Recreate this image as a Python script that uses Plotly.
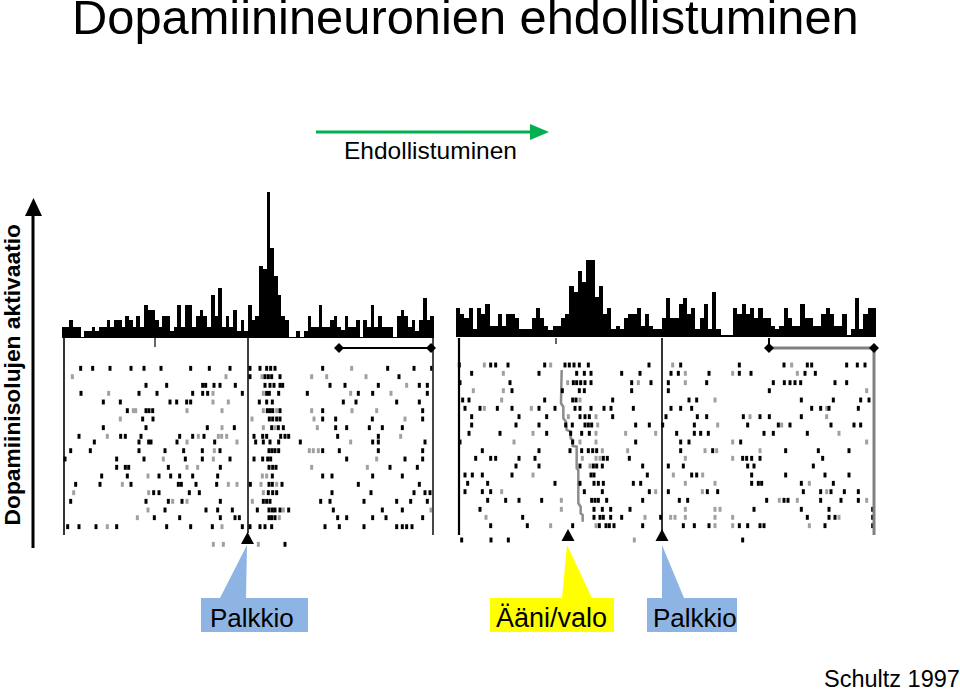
import plotly.graph_objects as go

W, H = 960, 693

title_text = "Dopamiinineuronien ehdollistuminen"
arrow_label = "Ehdollistuminen"
y_label = "Dopamiinisolujen aktivaatio"
reward_label = "Palkkio"
cue_label = "Ääni/valo"
source_label = "Schultz 1997"

# peri-event histograms (100 bins each, arbitrary activity units)
left_hist = [32,32,54,32,32,3,22,22,32,22,32,32,54,32,54,54,32,67,54,32,67,32,98,85,85,54,32,67,67,22,
             32,98,32,98,98,32,67,85,67,32,130,67,150,32,67,32,85,22,54,22,98,54,67,217,207,438,270,185,130,67,
             54,2,2,22,2,22,67,32,32,98,32,32,54,67,32,24,67,32,32,54,2,54,32,98,32,67,32,32,32,2,
             67,85,67,32,54,22,54,120,54,67]
right_hist = [87,70,57,87,24,87,70,100,34,34,70,34,70,70,57,24,24,24,57,87,57,34,22,34,34,57,70,154,134,197,
              166,230,230,120,154,70,87,24,34,24,57,70,70,87,34,70,34,24,24,57,117,57,57,100,117,70,87,24,57,100,
              24,134,24,4,4,4,87,70,100,70,87,57,87,57,57,34,24,34,87,57,34,34,100,57,57,34,34,70,87,70,
              34,34,70,4,24,117,24,70,87,87]

# raster trials (vertical trial position, spike times in raster time units)
left_trial_y = [25,50,76,100,126,152,177,203,229,246,272,297,322,348,373,398,424,450,473,500,553]
left_black = [
 [92,128,180,243,282,333,422,478,540,600,630,650,662,675,818,1013,1092,1145],
 [600,645,655,665,690,1047],
 [288,350,458,467,492,510,556,645,660,672,690,698,840,885,985,1108,1132],
 [93,267,321,428,458,473,577,650,658,686,772,925,968,1132],
 [160,211,360,380,410,422,628,650,667,880,918,1040,1108],
 [232,288,297,308,652,660,668,690,818,1118],
 [278,309,658,668,680,690,818,857,967,1118],
 [160,288,472,553,665,685,700,857,890,958,997,1057],
 [87,212,226,273,389,428,462,612,638,650,692,705,716,863,985],
 [133,267,296,303,381,494,617,640,660,686,751,968,985,1125],
 [62,121,267,345,401,457,510,657,666,675,686,818,868,985,1118],
 [45,200,282,406,457,540,612,638,653,662,890,1065,1118],
 [200,226,236,355,511,657,668,678,1020,1102],
 [155,232,327,362,389,428,503,667,818,846,968,1057],
 [77,150,243,385,394,438,500,601,657,667,696,925,1108],
 [311,327,418,448,655,668,680,846,963,1092,1125,1140],
 [62,288,355,396,511,640,650,660,812,840,942,1040,1082,1132],
 [345,468,503,547,622,657,667,675,690,716,850,997,1057],
 [313,389,511,555,568,657,665,675,863,890,968,1008,1118],
 [53,87,138,200,350,422,487,577,600,630,645,665,825,868,942,1040,1057,1070,1086],
 [705],
]
left_grey = [
 [905],
 [67,528,636,785,830,948],
 [1070],
 [176,489,640,902,1023],
 [489,535],
 [250,257,411,516,640,680,785,906,980],
 [211,606,792,1065],
 [516,640,675,802],
 [172,445,505,515,530,1052],
 [411,561,902],
 [493,778,790,805],
 [340,490,980],
 [411,443,785,952],
 [294,637,650],
 [217,535,561,633,680],
 [71,296,640],
 [368,411,607],
 [294,700,1143],
 [262,688],
 [172,516],
 [490,520,625],
]

right_trial_y = [15,40,68,92,120,145,170,195,220,246,272,295,318,345,370,395,421,448,472,497,540]
right_black = [
 [28,122,137,174,284,345,358,372,388,415,597,692,868,1002,1072,1085,1190,1222,1245],
 [65,267,380,403,423,515,570,663,685,777,868,903,1065,1096],
 [30,180,370,380,392,405,423,545,603,655,770,970,1003,1020,1035,1052,1155,1190],
 [186,337,388,403,545,655,958],
 [38,57,284,368,378,488,717,740,1054,1150,1232,1257],
 [45,90,142,186,267,315,375,390,423,462,483,550,663,692,725,1085,1112,1137,1225],
 [65,207,290,390,405,418,488,648,742,770,880,930,958,1054],
 [65,198,267,347,367,405,415,425,557,598,638,733,893,985,1020,1143,1212,1232],
 [57,150,290,362,395,418,680,733,752,775,942,970,1072],
 [30,368,557,692,717,872],
 [97,267,360,395,415,428,440,692,788,1007,1105,1197],
 [77,122,137,207,255,460,472,538,878,890,905,930,1118],
 [198,267,390,430,440,457,578,655,700,893,912,1090],
 [45,67,97,186,423,432,592,725,740,905,1007,1125,1197],
 [53,113,315,390,432,445,460,550,572,905,925,935,1054,1150],
 [45,97,122,403,457,598,655,772,803,1060,1112,1143,1183,1225],
 [113,167,207,275,425,435,445,470,578,688,713,950,1002,1014,1112,1173,1225],
 [90,432,457,482,540,912,1054,1137,1268],
 [218,432,450,460,482,515,632,1072,1137,1155,1268],
 [122,232,368,448,468,478,492,578,700,733,777,868,893,930,942,1125,1268],
 [35,123,175,878],
]
right_grey = [
 [103,302,668,1025],
 [160,706,848,1042],
 [353,565,706],
 [70,160,1250],
 [155,390,795],
 [103,244,1130],
 [355,438,900,1130],
 [443,803,995],
 [249,438,527,617,1167],
 [192,390,438,848,1250],
 [457,533,765,800,930],
 [397,438,450,706,848],
 [420],
 [249,670,758],
 [706,795,1078],
 [155,617,757,1130],
 [334,988,1042,1250],
 [334,706,795,810],
 [108,585,662,675,706,795,848,1167],
 [302,438,795,848,1078],
 [553],
]

# cue onset marked on each trial of the right raster
cue_onset_x = [335,333,333,340,340,348,350,362,362,368,368,380,380,385,385,392,392,398,398]
cue_onset_y = [30,80,130,140,175,185,210,215,235,240,258,260,325,330,430,440,460,465,485]


def xd(a, b):
    return [a / W, b / W]


def yd(top, bottom):
    return [1 - bottom / H, 1 - top / H]


def px(x):
    return x / W


def py(y):
    return 1 - y / H


def raster(rows, ys):
    xs, yy = [], []
    for r, yv in zip(rows, ys):
        for t in r:
            xs.append(t)
            yy.append(yv)
    return xs, yy


def spikes(rows, ys, color, xa, ya):
    xs, yy = raster(rows, ys)
    return go.Scatter(x=xs, y=yy, mode="markers", xaxis=xa, yaxis=ya, hoverinfo="skip",
                      marker=dict(symbol="line-ns", size=3.5, color=color,
                                  line=dict(width=3, color=color)))


fig = go.Figure()
fig.add_bar(x=list(range(len(left_hist))), y=left_hist, marker=dict(color="black", line_width=0),
            xaxis="x", yaxis="y")
fig.add_bar(x=list(range(len(right_hist))), y=right_hist, marker=dict(color="black", line_width=0),
            xaxis="x2", yaxis="y2")
fig.add_trace(spikes(left_grey, left_trial_y, "#a0a0a0", "x3", "y3"))
fig.add_trace(spikes(left_black, left_trial_y, "#000000", "x3", "y3"))
fig.add_trace(go.Scatter(x=cue_onset_x, y=cue_onset_y, mode="lines", xaxis="x4", yaxis="y4",
                         line=dict(color="#8c8c8c", width=2.5), hoverinfo="skip"))
fig.add_trace(spikes(right_grey, right_trial_y, "#a0a0a0", "x4", "y4"))
fig.add_trace(spikes(right_black, right_trial_y, "#000000", "x4", "y4"))


def line(x0, y0, x1, y1, color="black", width=1.5):
    return dict(type="line", xref="paper", yref="paper", x0=px(x0), y0=py(y0), x1=px(x1), y1=py(y1),
                line=dict(color=color, width=width), layer="above")


def poly(points, color, layer="below"):
    path = "M " + " L ".join(f"{px(a):.5f} {py(b):.5f}" for a, b in points) + " Z"
    return dict(type="path", xref="paper", yref="paper", path=path, fillcolor=color,
                line=dict(width=0), layer=layer)


BLUE = "#8EB4E3"
YEL = "#FFFF00"
shapes = [
    # callouts
    poly([(201, 598), (220, 598), (247, 545), (246, 598), (308, 598), (308, 632), (201, 632)], BLUE),
    poly([(490, 598), (562, 598), (567, 545), (592, 598), (614, 598), (614, 632), (490, 632)], YEL),
    poly([(647, 598), (662, 598), (662, 545), (684, 598), (737, 598), (737, 632), (647, 632)], BLUE),
    # event triangles
    poly([(241, 544), (254, 544), (247.5, 532)], "black", "above"),
    poly([(561.5, 541), (574.5, 541), (568, 529)], "black", "above"),
    poly([(655.5, 541), (668.5, 541), (662, 529)], "black", "above"),
    # panel frames and event lines
    line(64, 338, 64, 535, width=1.6),
    line(248, 338, 248, 533, width=1.5),
    line(433, 338, 433, 535, "#333333", 1.8),
    line(155, 338, 155, 347, width=1.2),
    line(459, 338, 459, 535, width=2.2),
    line(662, 338, 662, 532, width=1.6),
    line(874, 348, 874, 535, "#808080", 3),
    line(556, 338, 556, 344, width=1.2),
    line(769, 338, 769, 348, width=2),
    # interval bars
    line(339, 348, 431, 348, width=2),
    line(769, 348, 874, 348, "#808080", 3),
    poly([(334, 348), (339, 343), (344, 348), (339, 353)], "black", "above"),
    poly([(426, 348), (431, 343), (436, 348), (431, 353)], "black", "above"),
    poly([(764, 348), (769, 343), (774, 348), (769, 353)], "black", "above"),
    poly([(869, 348), (874, 343), (879, 348), (874, 353)], "black", "above"),
    # axis arrows
    line(33, 548, 33, 212, width=3),
    poly([(25, 216), (42, 216), (33.5, 198)], "black", "above"),
    line(316, 132, 534, 132, "#00B050", 3),
    poly([(530, 124), (549, 132), (530, 140)], "#00B050", "above"),
]


def text(s, x, y, size, anchor="left", color="black", bold=False, angle=0, vanchor="middle"):
    return dict(text=f"<b>{s}</b>" if bold else s, x=px(x), y=py(y), xref="paper", yref="paper",
                showarrow=False, xanchor=anchor, yanchor=vanchor, textangle=angle,
                font=dict(family="Liberation Sans", size=size, color=color))


annotations = [
    text(title_text, 465.5, 17, 48.8, "center"),
    text(arrow_label, 430.5, 150, 24.5, "center"),
    text(y_label, 11.5, 375, 22.8, "center", bold=True, angle=-90),
    text(reward_label, 252.5, 618, 26, "center"),
    text(cue_label, 551, 618, 27, "center"),
    text(reward_label, 695, 618, 26, "center"),
    text(source_label, 891.5, 679, 23.5, "center"),
]


def hidden(**kw):
    return dict(visible=False, fixedrange=True, **kw)


fig.update_layout(
    width=W, height=H, autosize=False,
    margin=dict(l=0, r=0, t=0, b=0),
    paper_bgcolor="white", plot_bgcolor="rgba(0,0,0,0)",
    showlegend=False, bargap=0,
    xaxis=hidden(domain=xd(62, 434), range=[-0.5, 99.5], anchor="y"),
    yaxis=hidden(domain=yd(192, 338), range=[0, 438], anchor="x"),
    xaxis2=hidden(domain=xd(456, 876), range=[-0.5, 99.5], anchor="y2"),
    yaxis2=hidden(domain=yd(260, 337), range=[0, 231], anchor="x2"),
    xaxis3=hidden(domain=xd(62, 434), range=[36, 1152], anchor="y3"),
    yaxis3=hidden(domain=yd(360, 550), range=[570, 0], anchor="x3"),
    xaxis4=hidden(domain=xd(456, 876), range=[18, 1278], anchor="y4"),
    yaxis4=hidden(domain=yd(360, 550), range=[570, 0], anchor="x4"),
    shapes=shapes,
    annotations=annotations,
)

fig.write_html("out.html", config={"displayModeBar": False},
               post_script="document.body.style.margin='0';document.body.style.overflow='hidden';")
